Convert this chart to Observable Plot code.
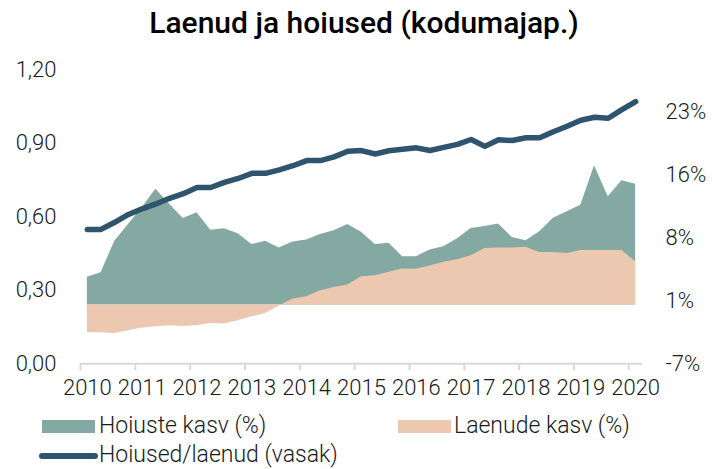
<!DOCTYPE html>
<html><head><meta charset="utf-8">
<script src="https://cdn.jsdelivr.net/npm/d3@7"></script>
<script src="https://cdn.jsdelivr.net/npm/@observablehq/plot@0.6"></script>
<style>
body{margin:0;background:#fff;font-family:Roboto,"Liberation Sans",sans-serif;}
#wrap{position:relative;width:715px;height:469px;}
#title{position:absolute;top:4px;left:0;width:715px;text-align:center;font-size:30px;font-weight:500;color:#000;padding-left:13px;box-sizing:border-box;line-height:38px;}
#chart{position:absolute;top:50px;left:0;}
.leg{position:absolute;font-size:23px;font-weight:300;color:#1a1a1a;line-height:22px;white-space:nowrap;}
.sw{position:absolute;}
</style></head>
<body>
<div id="wrap">
  <div id="title">Laenud ja hoiused (kodumajap.)</div>
  <div id="chart"></div>
  <div class="sw" style="left:42px;top:420px;width:53px;height:13px;background:#84a8a2"></div>
  <div class="leg" style="left:99px;top:415px">Hoiuste kasv (%)</div>
  <div class="sw" style="left:398px;top:420px;width:53px;height:13px;background:#ecc8b0"></div>
  <div class="leg" style="left:454px;top:415px">Laenude kasv (%)</div>
  <svg class="sw" style="left:36px;top:449px" width="66" height="14"><line x1="6" y1="7" x2="59" y2="7" stroke="#2e546e" stroke-width="6" stroke-linecap="round"/></svg>
  <div class="leg" style="left:99px;top:444px">Hoiused/laenud (vasak)</div>
</div>
<script>
// Quarterly periods
const quarters = [
 "2010Q1","2010Q2","2010Q3","2010Q4","2011Q1","2011Q2","2011Q3","2011Q4",
 "2012Q1","2012Q2","2012Q3","2012Q4","2013Q1","2013Q2","2013Q3","2013Q4",
 "2014Q1","2014Q2","2014Q3","2014Q4","2015Q1","2015Q2","2015Q3","2015Q4",
 "2016Q1","2016Q2","2016Q3","2016Q4","2017Q1","2017Q2","2017Q3","2017Q4",
 "2018Q1","2018Q2","2018Q3","2018Q4","2019Q1","2019Q2","2019Q3","2019Q4",
 "2020Q1"];
// Hoiuste kasv (%) – right axis
const depositGrowth = [
 3.3, 3.85, 7.6, 9.6, 11.6, 13.8, 12.0, 10.3, 11.0, 8.9, 9.1, 8.5, 7.2, 7.6,
 6.8, 7.5, 7.75, 8.4, 8.86, 9.6, 8.66, 7.2, 7.35, 5.76, 5.76, 6.55, 6.95, 7.9,
 9.13, 9.37, 9.65, 8.06, 7.67, 8.74, 10.33, 11.1, 11.9, 16.6, 12.9, 14.8, 14.4];
// Laenude kasv (%) – right axis
const loanGrowth = [
 -3.3, -3.3, -3.4, -3.07, -2.75, -2.6, -2.47, -2.55, -2.47, -2.2, -2.27, -1.87, -1.4, -1.0,
 -0.1, 0.71, 0.99, 1.7, 2.1, 2.4, 3.37, 3.5, 3.9, 4.3, 4.25, 4.65, 5.1, 5.4,
 5.88, 6.75, 6.8, 6.8, 6.87, 6.27, 6.27, 6.15, 6.5, 6.5, 6.5, 6.5, 5.16];
// Hoiused/laenud – left axis
const depositLoanRatio = [
 0.549, 0.549, 0.578, 0.610, 0.633, 0.653, 0.676, 0.695, 0.720, 0.720, 0.741, 0.757, 0.778, 0.778,
 0.792, 0.809, 0.830, 0.830, 0.845, 0.868, 0.871, 0.857, 0.870, 0.876, 0.882, 0.871, 0.884, 0.896,
 0.916, 0.888, 0.915, 0.912, 0.923, 0.923, 0.948, 0.970, 0.995, 1.007, 1.003, 1.038, 1.071];

const years = [2010,2011,2012,2013,2014,2015,2016,2017,2018,2019,2020];
const leftTicks = [0, 0.3, 0.6, 0.9, 1.2];
const leftTickLabels = ["0,00","0,30","0,60","0,90","1,20"];
const rightTicks = [-7, 0.5, 8, 15.5, 23];
const rightTickLabels = ["-7%","1%","8%","16%","23%"];
const leftRange = [0, 1.2];
const rightRange = [-7, 28];

const toLeft = p => (p - rightRange[0]) / (rightRange[1] - rightRange[0]) * (leftRange[1] - leftRange[0]) + leftRange[0];
const qTime = s => +s.slice(0,4) + (+s.slice(5) - 1) / 4;
const base = toLeft(0);

const data = quarters.map((q, i) => ({
  t: qTime(q),
  dep: toLeft(depositGrowth[i]),
  loan: toLeft(loanGrowth[i]),
  ratio: depositLoanRatio[i]
}));

const rightTickPos = rightTicks.map(toLeft);
const fmtLeft = d => { const i = leftTicks.findIndex(v => Math.abs(v - d) < 1e-9); return i >= 0 ? leftTickLabels[i] : ""; };
const fmtRight = d => { const i = rightTickPos.findIndex(v => Math.abs(v - d) < 1e-9); return i >= 0 ? rightTickLabels[i] : ""; };

const font = "Roboto, 'Liberation Sans', sans-serif";
const plot = Plot.plot({
  width: 715,
  height: 355,
  marginLeft: 80,
  marginRight: 73,
  marginTop: 19.5,
  marginBottom: 41.7,
  style: {fontFamily: font, fontSize: "22px", color: "#1a1a1a", background: "transparent", overflow: "visible"},
  x: {domain: [years[0] - 0.125, years[years.length - 1] + 0.125]},
  y: {domain: leftRange},
  marks: [
    Plot.areaY(data, {x: "t", y1: base, y2: "dep", fill: "#84a8a2", curve: "linear"}),
    Plot.areaY(data, {x: "t", y1: base, y2: "loan", fill: "#ecc8b0", curve: "linear"}),
    Plot.ruleY([0], {stroke: "#d9d9d9", strokeWidth: 2}),
    Plot.axisX({ticks: years.map(y => y - 0.125), tickSize: 7, tickFormat: () => "", stroke: "#d9d9d9", strokeWidth: 2, label: null}),
    Plot.axisX({ticks: years, tickSize: 0, tickPadding: 16, tickFormat: d => String(d), fontSize: 22, fontWeight: 300, label: null}),
    Plot.axisY({anchor: "left", ticks: leftTicks, tickSize: 0, tickPadding: 24, tickFormat: fmtLeft, fontSize: 22, fontWeight: 300, label: null}),
    Plot.axisY({anchor: "right", ticks: rightTickPos, tickSize: 0, tickPadding: 23, tickFormat: fmtRight, fontSize: 22, fontWeight: 300, label: null}),
    Plot.line(data, {x: "t", y: "ratio", stroke: "#2e546e", strokeWidth: 5.5, strokeLinecap: "round", strokeLinejoin: "round"})
  ]
});
document.getElementById("chart").appendChild(plot);
</script>
</body></html>
